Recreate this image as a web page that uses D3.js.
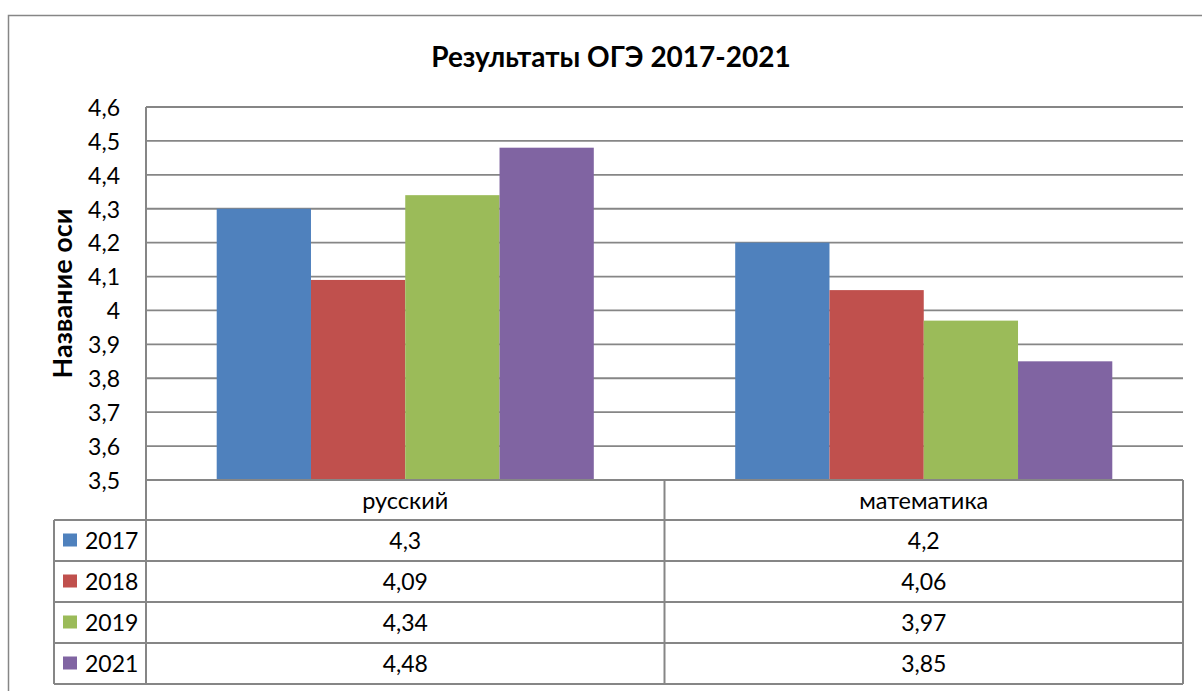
<!DOCTYPE html>
<html>
<head>
<meta charset="utf-8">
<script src="https://cdn.jsdelivr.net/npm/d3@7"></script>
<style>
  body { margin: 0; background: #fff; }
  svg text { font-family: Lato, "Open Sans", sans-serif; fill: #000; }
</style>
</head>
<body>
<svg id="chart" width="1202" height="691"></svg>
<script>
// data
const categories = ['русский', 'математика']
const years = ['2017', '2018', '2019', '2021']
const values2017 = [4.3, 4.2]
const values2018 = [4.09, 4.06]
const values2019 = [4.34, 3.97]
const values2021 = [4.48, 3.85]
const colors = ['#4F81BD', '#C0504D', '#9BBB59', '#8064A2']
const yDomain = [3.5, 4.6]

const series = [values2017, values2018, values2019, values2021]
    .map((vals, i) => ({ name: years[i], color: colors[i], values: vals }))

const svg = d3.select('#chart')
const plot = { left: 146, right: 1183, top: 107, bottom: 480 }
const rowH = 41

const gridColor = '#868686'
const fmt = d => d3.format('.2~f')(d).replace('.', ',')

// outer chart frame (runs off the right and bottom edges)
svg.append('path')
    .attr('d', 'M8.5,700 V15.5 H1210')
    .attr('fill', 'none')
    .attr('stroke', gridColor)
    .attr('stroke-width', 1.5)

svg.append('text')
    .attr('x', 611).attr('y', 67)
    .attr('text-anchor', 'middle')
    .style('font-size', '28px').style('font-weight', 'bold')
    .text('Результаты ОГЭ 2017-2021')

const x = d3.scaleBand().domain(categories).range([plot.left, plot.right])
const xs = d3.scaleBand().domain(years).range([0, x.bandwidth()])
    .paddingInner(0).paddingOuter(0.75)
const y = d3.scaleLinear().domain(yDomain).range([plot.bottom, plot.top])

// gridlines
svg.append('g')
    .selectAll('line')
    .data(y.ticks(11))
    .join('line')
    .attr('x1', plot.left).attr('x2', plot.right)
    .attr('y1', d => y(d)).attr('y2', d => y(d))
    .attr('stroke', gridColor)
    .attr('stroke-width', 1.8)

// bars
svg.append('g')
    .selectAll('g')
    .data(series)
    .join('g')
    .attr('fill', d => d.color)
    .selectAll('rect')
    .data(d => d.values.map((v, i) => ({ cat: categories[i], year: d.name, v })))
    .join('rect')
    .attr('x', d => x(d.cat) + xs(d.year))
    .attr('width', xs.bandwidth())
    .attr('y', d => y(d.v))
    .attr('height', d => y(yDomain[0]) - y(d.v))

// y axis labels
const yAxis = svg.append('g')
    .attr('transform', `translate(${plot.left},0)`)
    .call(d3.axisLeft(y).ticks(11).tickSize(0).tickPadding(26).tickFormat(fmt))
yAxis.select('.domain').remove()
yAxis.selectAll('text').style('font-size', '23px').attr('dy', '0.36em')

svg.append('text')
    .attr('transform', `translate(72,${(plot.top + plot.bottom) / 2}) rotate(-90)`)
    .attr('text-anchor', 'middle')
    .style('font-size', '27px').style('font-weight', 'bold')
    .text('Название оси')

// data table
const tableLeft = 54
const tableBottom = plot.bottom + rowH - 1 + rowH * years.length
const table = svg.append('g')
    .attr('fill', 'none')
    .attr('stroke', gridColor)
    .attr('stroke-width', 2)

// vertical lines
table.append('line')
    .attr('x1', plot.left).attr('x2', plot.left)
    .attr('y1', plot.top).attr('y2', tableBottom)
table.selectAll('.vcol')
    .data(categories)
    .join('line')
    .attr('x1', d => x(d) + x.bandwidth()).attr('x2', d => x(d) + x.bandwidth())
    .attr('y1', plot.bottom).attr('y2', tableBottom)
table.append('line')
    .attr('x1', tableLeft).attr('x2', tableLeft)
    .attr('y1', plot.bottom + rowH - 1).attr('y2', tableBottom)

// horizontal lines
const rowY = i => plot.bottom + rowH - 1 + i * rowH
table.selectAll('.hrow')
    .data(d3.range(years.length + 1))
    .join('line')
    .attr('x1', tableLeft).attr('x2', plot.right)
    .attr('y1', rowY).attr('y2', rowY)
table.append('line')
    .attr('x1', plot.left).attr('x2', plot.right)
    .attr('y1', plot.bottom).attr('y2', plot.bottom)

// header
svg.append('g')
    .selectAll('text')
    .data(categories)
    .join('text')
    .attr('x', d => x(d) + x.bandwidth() / 2)
    .attr('y', plot.bottom + rowH / 2)
    .attr('dy', '0.36em')
    .attr('text-anchor', 'middle')
    .style('font-size', '23.5px')
    .text(d => d)

// rows
const rows = svg.append('g')
    .selectAll('g')
    .data(series)
    .join('g')
    .attr('transform', (d, i) => `translate(0,${rowY(i) + rowH / 2})`)

rows.append('rect')
    .attr('x', 63).attr('y', -7)
    .attr('width', 14).attr('height', 13)
    .attr('fill', d => d.color)

rows.append('text')
    .attr('x', 85).attr('dy', '0.36em')
    .style('font-size', '23px')
    .text(d => d.name)

rows.selectAll('.val')
    .data(d => d.values.map((v, i) => ({ cat: categories[i], v })))
    .join('text')
    .attr('x', d => x(d.cat) + x.bandwidth() / 2)
    .attr('dy', '0.36em')
    .attr('text-anchor', 'middle')
    .style('font-size', '23px')
    .text(d => fmt(d.v))
</script>
</body>
</html>
